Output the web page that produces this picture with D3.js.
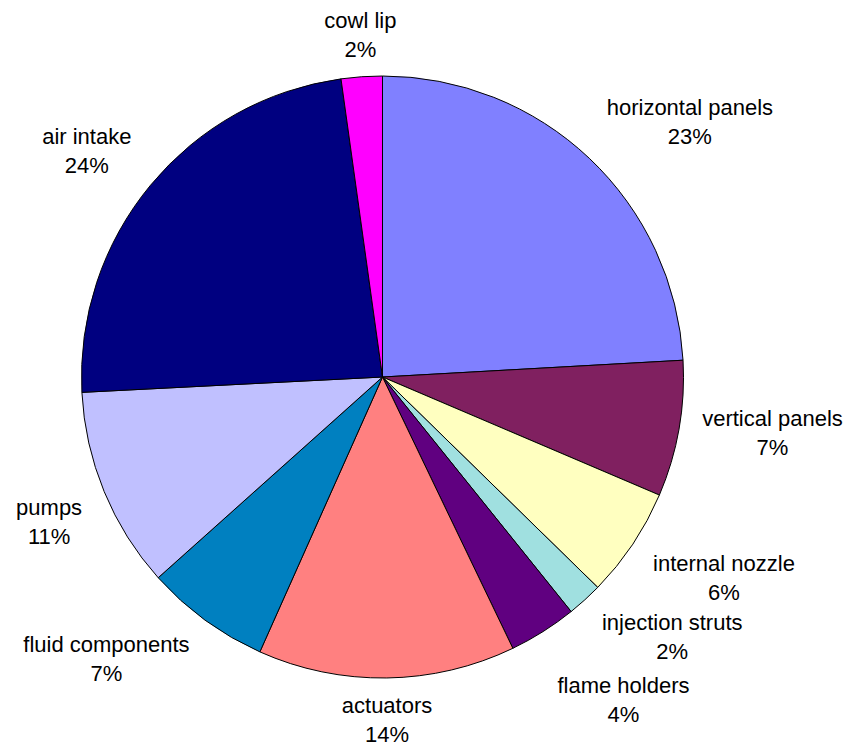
<!DOCTYPE html>
<html>
<head>
<meta charset="utf-8">
<script src="https://cdn.jsdelivr.net/npm/d3@7"></script>
<style>
  html, body { margin: 0; padding: 0; background: #ffffff; }
  svg { display: block; }
  text { font-family: "Liberation Sans", Arial, sans-serif; font-size: 22px; fill: #000; }
</style>
</head>
<body>
<svg id="chart" width="852" height="744"></svg>
<script>
// ---- data ----
const categories = ["horizontal panels", "vertical panels", "internal nozzle", "injection struts",
  "flame holders", "actuators", "fluid components", "pumps", "air intake", "cowl lip"];
const shares = [24.1, 7.3, 5.9, 1.9, 3.65, 13.8, 6.7, 10.8, 23.6, 2.2];
const percentLabels = ["23%", "7%", "6%", "2%", "4%", "14%", "7%", "11%", "24%", "2%"];
const sliceColors = ["#8080FF", "#802060", "#FFFFC0", "#A0E0E0", "#600080",
  "#FF8080", "#0080C0", "#C0C0FF", "#000080", "#FF00FF"];

// ---- layout ----
const W = 852, H = 744;
const cx = 382.5, cy = 377, radius = 301;
const labelR = 320.5;     // anchor radius of the labels
const padX = 4;           // horizontal padding of a label box
const capH = 16, lineH = 29, labelGap = 18;

const data = categories.map((c, i) => ({ name: c, value: shares[i], pct: percentLabels[i], color: sliceColors[i] }));

const svg = d3.select("#chart");
const g = svg.append("g").attr("transform", `translate(${cx},${cy})`);

const pie = d3.pie().sort(null).value(d => d.value).startAngle(0).endAngle(2 * Math.PI);
const arc = d3.arc().innerRadius(0).outerRadius(radius);
const arcs = pie(data);

g.selectAll("path.slice")
  .data(arcs)
  .join("path")
  .attr("class", "slice")
  .attr("d", arc)
  .attr("fill", d => d.data.color)
  .attr("stroke", "#000")
  .attr("stroke-width", 1)
  .attr("stroke-linejoin", "round");

// ---- labels ----
const labelLayer = svg.append("g");
const placed = [];
arcs.forEach(d => {
  const mid = (d.startAngle + d.endAngle) / 2;
  const s = Math.sin(mid), c = Math.cos(mid);
  const ax = cx + labelR * s, ay = cy - labelR * c;

  const t = labelLayer.append("text").attr("text-anchor", "middle");
  const l1 = t.append("tspan").text(d.data.name);
  const l2 = t.append("tspan").text(d.data.pct);
  const w = Math.max(l1.node().getComputedTextLength(), l2.node().getComputedTextLength()) + 2 * padX;
  const h = capH + lineH;

  let left = s > 0.25 ? ax : (s < -0.25 ? ax - w : ax - w / 2);
  let top = c > 0.25 ? ay - h : (c < -0.25 ? ay : ay - h / 2);

  placed.forEach(b => {
    const overlap = left < b.right && left + w > b.left && top < b.bottom && top + h > b.top;
    if (overlap) {
      if (c < 0) top = b.bottom + labelGap; else top = b.top - labelGap - h;
    }
  });
  placed.push({ left, right: left + w, top, bottom: top + h });

  const x = left + w / 2;
  const y1 = top + capH;
  l1.attr("x", x).attr("y", y1);
  l2.attr("x", x).attr("y", y1 + lineH);
});
</script>
</body>
</html>
